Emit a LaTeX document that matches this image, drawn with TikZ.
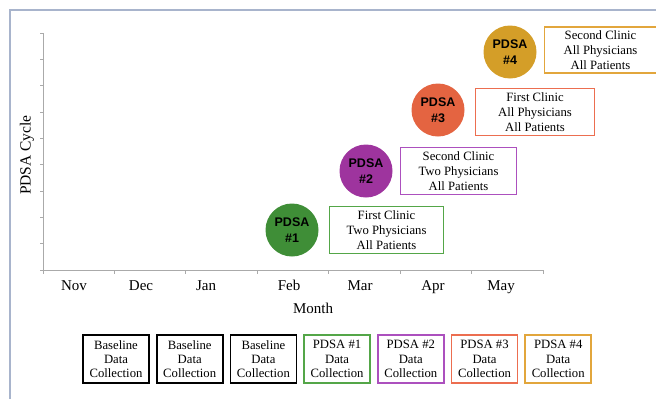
\documentclass[tikz,border=0pt]{standalone}
\usepackage{fontspec}
\setmainfont{Liberation Serif}
\newfontfamily\circfont{Liberation Sans}
\usetikzlibrary{positioning}
\definecolor{framecol}{RGB}{168,180,204}
\definecolor{axiscol}{RGB}{170,170,170}
\definecolor{pgreen}{RGB}{63,142,55}
\definecolor{pgreenline}{RGB}{84,166,72}
\definecolor{ppurple}{RGB}{158,52,158}
\definecolor{ppurpleline}{RGB}{172,80,190}
\definecolor{porange}{RGB}{228,100,65}
\definecolor{porangeline}{RGB}{236,110,80}
\definecolor{pgold}{RGB}{212,158,40}
\definecolor{pgoldline}{RGB}{226,166,60}
\begin{document}
\begin{tikzpicture}[x=1pt, y=-1pt,
        pdsanode/.style={circle,minimum size=53pt,inner sep=0pt,align=center,
          font=\circfont\bfseries\fontsize{12.5}{15.7}\selectfont},
        clinicnode/.style={draw,line width=1.6pt,rectangle,minimum height=47pt,
          inner sep=2pt,align=center,font=\fontsize{12.7}{15}\selectfont},
        datanode/.style={draw,line width=1.7pt,rectangle,minimum width=66pt,minimum height=48pt,
          inner sep=1pt,align=center,font=\fontsize{12.7}{14.3}\selectfont},
        monthnode/.style={anchor=base,font=\fontsize{15}{18}\selectfont}
        ]
        \useasboundingbox (0,0) rectangle (656,399);
        % frame
        \draw[framecol, line width=1.5pt] (10,399) -- (10,10) -- (656,10);
        % axes
        \draw[axiscol, line width=1pt] (43,33) -- (43,270) -- (543,270);
        \foreach \k in {0,...,9}
          \draw[axiscol, line width=0.8pt] (40,33+26.33*\k) -- (43,33+26.33*\k);
        \foreach \k in {0,...,7}
          \draw[axiscol, line width=0.8pt] (43+71.43*\k,270) -- (43+71.43*\k,274);
        %months
        \node[monthnode] (nov) at (74,290) {Nov};
        \node[monthnode] (dec) at (141,290) {Dec};
        \node[monthnode] (jan) at (206,290) {Jan};
        \node[monthnode] (feb) at (289,290) {Feb};
        \node[monthnode] (mar) at (360,290) {Mar};
        \node[monthnode] (apr) at (433,290) {Apr};
        \node[monthnode] (may) at (501,290) {May};
        \node[monthnode] (xlabel) at (313,313) {Month};
        \node[font=\fontsize{15.5}{18}\selectfont, rotate=90] (ylabel) at (27,155) {PDSA Cycle};
        % cycles
        \node[pdsanode, fill=pgreen] (c1) at (292,230) {PDSA\\\#1};
        \node[pdsanode, fill=ppurple] (c2) at (366,171) {PDSA\\\#2};
        \node[pdsanode, fill=porange] (c3) at (438,110) {PDSA\\\#3};
        \node[pdsanode, fill=pgold] (c4) at (510,52) {PDSA\\\#4};
        \node[clinicnode, draw=pgreenline, minimum width=114pt, right=10pt of c1] (b1)
          {First Clinic\\Two Physicians\\All Patients};
        \node[clinicnode, draw=ppurpleline, minimum width=116pt, right=7pt of c2] (b2)
          {Second Clinic\\Two Physicians\\All Patients};
        \node[clinicnode, draw=porangeline, minimum width=119pt, right=10pt of c3, yshift=-2pt] (b3)
          {First Clinic\\All Physicians\\All Patients};
        \node[clinicnode, draw=pgoldline, minimum width=112pt, minimum height=46pt, right=7pt of c4, yshift=2pt] (b4)
          {Second Clinic\\All Physicians\\All Patients};
        % data collection
        \node[datanode] (d1) at (116,359) {Baseline\\Data\\Collection};
        \node[datanode, right=6pt of d1] (d2) {Baseline\\Data\\Collection};
        \node[datanode, right=6pt of d2] (d3) {Baseline\\Data\\Collection};
        \node[datanode, draw=pgreenline, right=6pt of d3] (d4) {PDSA \#1\\Data\\Collection};
        \node[datanode, draw=ppurpleline, right=6pt of d4] (d5) {PDSA \#2\\Data\\Collection};
        \node[datanode, draw=porangeline, right=6pt of d5] (d6) {PDSA \#3\\Data\\Collection};
        \node[datanode, draw=pgoldline, right=6pt of d6] (d7) {PDSA \#4\\Data\\Collection};
\end{tikzpicture}
\end{document}
